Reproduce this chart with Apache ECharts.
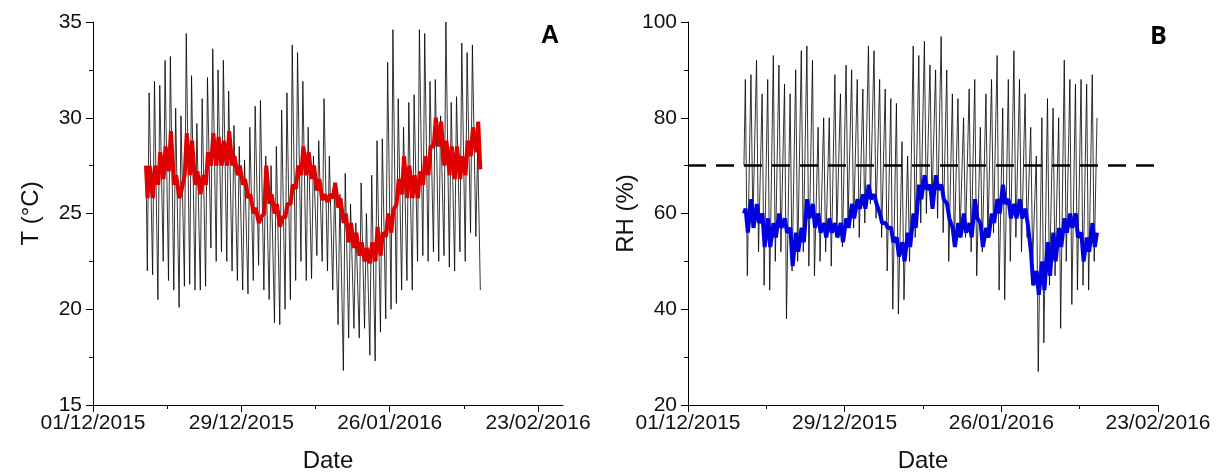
<!DOCTYPE html>
<html>
<head>
<meta charset="utf-8">
<script src="https://cdn.jsdelivr.net/npm/echarts@6/dist/echarts.min.js"></script>
<style>
html,body{margin:0;padding:0;background:#fff;}
#chart{width:1220px;height:475px;}
</style>
</head>
<body>
<div id="chart"></div>
<script>
// ---- X axis (days since 01/12/2015) ----
const xTicks = [0, 28, 56, 84];
const xTickLabels = ['01/12/2015', '29/12/2015', '26/01/2016', '23/02/2016'];
const xMinorTicks = [14, 42, 70];
const firstDay = 10;          // 11/12/2015
const lastPoint = 73.1;       // end of record

// ---- Panel A: temperature, daily maximum / minimum (11/12/2015 .. 11/02/2016) ----
const tStart = 27.5, tEnd = 21.0;
const tMax = [31.3,31.9,31.7,33.0,33.2,30.5,30.1,34.4,32.2,29.7,31.0,32.1,33.6,32.5,33.0,31.4,29.6,28.5,27.8,29.5,30.6,
  30.9,28.0,27.5,28.5,30.4,31.3,33.8,33.4,31.9,29.5,28.0,28.8,31.0,28.0,26.5,26.0,27.1,25.5,24.5,26.6,25.0,27.0,28.8,28.9,32.9,34.6,31.0,29.5,30.8,31.2,
  34.6,34.4,31.9,32.0,30.1,35.0,30.8,31.1,33.9,33.4,33.8,28.5];
const tMin = [22.0,21.8,20.5,22.5,21.5,21.0,20.1,21.2,21.3,21.0,21.0,21.2,23.2,22.5,23.0,22.5,22.0,21.5,21.0,20.8,21.5,
  22.3,21.0,20.5,19.3,19.2,20.0,20.5,21.5,22.5,21.5,21.6,22.8,22.5,22.0,21.0,19.2,16.8,18.5,19.0,18.5,19.0,17.6,17.3,18.8,19.5,20.0,20.3,21.0,21.5,21.0,
  22.5,22.8,22.5,23.0,22.5,22.8,22.2,22.0,23.0,22.5,24.0,23.8];
// running mean (red), upper / lower swing per day
const tAvgStart = 27.5, tAvgEnd = 27.3;
const tAvgHi = [27.5,27.5,28.2,28.5,29.3,27.0,26.2,29.2,28.8,27.2,27.0,28.2,29.2,29.0,28.8,29.3,28.0,27.5,26.8,26.0,25.3,
  24.8,27.5,26.0,25.5,24.8,25.5,26.5,27.5,28.5,28.2,27.5,26.8,26.0,26.0,26.6,25.8,25.0,24.5,24.0,23.5,23.2,23.5,24.3,24.0,25.0,25.2,26.8,28.0,27.5,27.0,
  27.2,28.0,28.5,30.0,29.8,28.8,28.5,28.5,28.0,28.8,29.5,29.8];
const tAvgLo = [25.8,25.8,26.5,26.8,27.2,26.5,25.8,27.0,27.0,26.5,26.0,26.5,27.5,27.5,27.5,27.5,27.5,27.0,26.5,25.8,25.0,
  24.5,25.0,25.5,25.0,24.3,24.8,25.5,26.3,27.0,27.0,26.8,26.2,25.7,25.6,25.8,25.3,24.5,23.5,23.2,22.8,22.5,22.4,22.5,22.8,23.8,24.0,25.5,26.0,25.8,25.8,
  25.8,26.5,27.0,28.5,28.5,27.5,27.0,26.8,26.8,27.0,28.0,28.2];

// ---- Panel B: relative humidity, daily maximum / minimum ----
const rhStart = 70, rhEnd = 80;
const rhMax = [88,89,92,85,88,93,91,87,85,90,94,95,92,78,80,80,89,85,91,90,88,
  86,95,94,88,86,84,83,75,72,95,93,96,91,90,97,90,85,84,80,86,88,78,85,88,93,82,88,94,88,85,
  78,72,80,84,82,80,92,88,87,88,87,89];
const rhMin = [47,58,52,45,44,50,52,38,48,50,52,49,47,50,52,49,56,53,58,57,55,
  58,62,59,55,48,40,39,42,50,55,58,60,62,59,56,50,53,55,55,52,47,52,55,56,44,42,50,55,52,55,
  50,27,33,45,47,36,50,41,44,45,44,50];
const rhAvgStart = 60, rhAvgEnd = 56;
const rhAvgHi = [61,63,62,60,59,58,60,59,57,56,57,63,62,60,58,59,58,58,59,62,63,
  64,66,64,60,58,57,55,54,56,60,66,68,66,68,66,62,57,58,60,58,63,58,57,60,63,66,63,62,63,61,
  52,48,50,54,56,57,59,60,60,56,55,58];
const rhAvgLo = [56,57,58,53,53,55,57,56,49,52,54,59,57,56,55,56,55,54,57,59,61,
  61,63,62,58,57,54,51,50,53,57,63,65,61,65,63,59,53,55,56,55,59,53,55,58,60,62,59,59,59,58,
  45,43,44,47,50,53,56,57,55,50,52,53];
const rhLimit = 70;

// ---- build (x, y) pairs ----
function zig(lowArr, highArr, lowFirst, start, end, tA, tB) {
  const out = [[firstDay, start]];
  for (let i = 0; i < lowArr.length; i++) {
    const d = firstDay + i;
    if (lowFirst) { out.push([d + tA, lowArr[i]]); out.push([d + tB, highArr[i]]); }
    else { out.push([d + tA, highArr[i]]); out.push([d + tB, lowArr[i]]); }
  }
  out.push([lastPoint, end]);
  return out;
}
const tRaw = zig(tMin, tMax, true, tStart, tEnd, 0.25, 0.6);
const tAvg = zig(tAvgLo, tAvgHi, true, tAvgStart, tAvgEnd, 0.3, 0.7);
const rhRaw = zig(rhMin, rhMax, false, rhStart, rhEnd, 0.25, 0.6);
const rhAvg = zig(rhAvgLo, rhAvgHi, false, rhAvgStart, rhAvgEnd, 0.3, 0.7);

const FONT = '"Liberation Sans", Arial, sans-serif';
function xLabel(v) {
  for (let k = 0; k < xTicks.length; k++) if (Math.abs(v - xTicks[k]) < 1e-6) return xTickLabels[k];
  return '';
}
function mainX(gridIndex, max) {
  return {
    type: 'value', gridIndex, min: 0, max, interval: 28,
    name: 'Date', nameLocation: 'middle', nameGap: 44,
    nameTextStyle: { fontFamily: FONT, fontSize: 24, color: '#111' },
    axisLine: { show: true, onZero: false, lineStyle: { color: '#000', width: 1 } },
    axisTick: { show: true, inside: false, length: 7, customValues: xTicks, lineStyle: { color: '#000' } },
    axisLabel: { show: true, customValues: xTicks, formatter: xLabel, margin: 8,
      fontFamily: FONT, fontSize: 21, color: '#111' },
    splitLine: { show: false }
  };
}
function minorX(gridIndex, max) {
  return {
    type: 'value', gridIndex, min: 0, max, interval: 28, position: 'bottom',
    axisLine: { show: false, onZero: false },
    axisTick: { show: true, inside: false, length: 4, customValues: xMinorTicks, lineStyle: { color: '#000' } },
    axisLabel: { show: false },
    splitLine: { show: false }
  };
}
function yAx(gridIndex, min, max, interval, name) {
  return {
    type: 'value', gridIndex, min, max, interval,
    name, nameLocation: 'middle', nameGap: 50, nameRotate: 90,
    nameTextStyle: { fontFamily: FONT, fontSize: 24, color: '#111' },
    axisLine: { show: true, onZero: false, lineStyle: { color: '#000', width: 1 } },
    axisTick: { show: true, inside: false, length: 7, lineStyle: { color: '#000' } },
    minorTick: { show: true, splitNumber: 2, length: 4, lineStyle: { color: '#000' } },
    axisLabel: { margin: 11, fontFamily: FONT, fontSize: 21, color: '#111' },
    splitLine: { show: false }, minorSplitLine: { show: false }
  };
}

const chart = echarts.init(document.getElementById('chart'), null, { renderer: 'canvas' });
chart.setOption({
  animation: false,
  backgroundColor: '#fff',
  title: [
    { text: 'A', left: 536, top: 19, textStyle: { fontFamily: FONT, fontWeight: 'bold', fontSize: 25, color: '#000' } },
    { text: 'B', left: 1145, top: 19, textStyle: { fontFamily: '"Open Sans", sans-serif', fontWeight: 'bold', fontSize: 25, color: '#000' } }
  ],
  grid: [
    { left: 93, top: 22, width: 470, height: 383, containLabel: false, outerBoundsMode: 'none' },
    { left: 688, top: 22, width: 470, height: 383, containLabel: false, outerBoundsMode: 'none' }
  ],
  xAxis: [mainX(0, 88.7), mainX(1, 84), minorX(0, 88.7), minorX(1, 84)],
  yAxis: [yAx(0, 15, 35, 5, 'T (°C)'), yAx(1, 20, 100, 20, 'RH (%)')],
  series: [
    { type: 'line', xAxisIndex: 0, yAxisIndex: 0, data: tRaw, showSymbol: false, symbol: 'none',
      lineStyle: { color: '#000', width: 0.8 }, z: 2 },
    { type: 'line', xAxisIndex: 0, yAxisIndex: 0, data: tAvg, showSymbol: false, symbol: 'none',
      lineStyle: { color: '#e00000', width: 4 }, z: 3 },
    { type: 'line', xAxisIndex: 1, yAxisIndex: 1, data: rhRaw, showSymbol: false, symbol: 'none',
      lineStyle: { color: '#000', width: 0.8 }, z: 2,
      markLine: { silent: true, symbol: 'none', label: { show: false },
        lineStyle: { color: '#000', width: 2.5, type: [18, 10] },
        data: [{ yAxis: rhLimit }] } },
    { type: 'line', xAxisIndex: 1, yAxisIndex: 1, data: rhAvg, showSymbol: false, symbol: 'none',
      lineStyle: { color: '#0000e0', width: 4 }, z: 3 }
  ]
});
</script>
</body>
</html>
